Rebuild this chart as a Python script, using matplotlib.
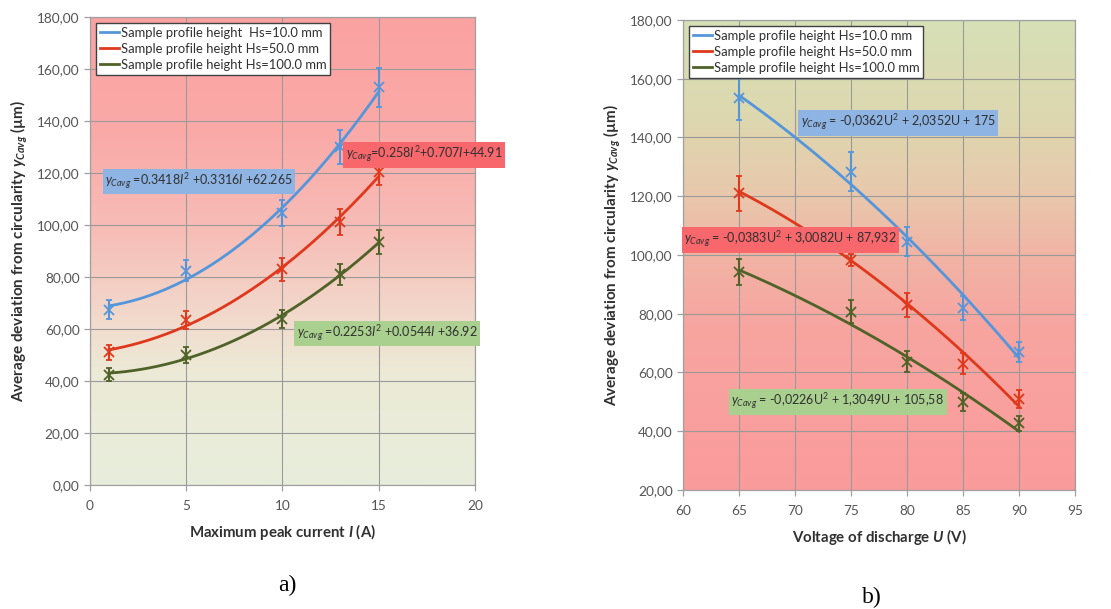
import numpy as np
import matplotlib
matplotlib.use("Agg")
import matplotlib.pyplot as plt

plt.rcParams['font.family'] = ['Lato', 'DejaVu Sans']
plt.rcParams['mathtext.fontset'] = 'custom'
plt.rcParams['mathtext.rm'] = 'Lato'
plt.rcParams['mathtext.it'] = 'Lato:italic'
plt.rcParams['mathtext.bf'] = 'Lato:bold'
plt.rcParams['mathtext.bfit'] = 'Lato:bold:italic'

# ---- data: (a) maximum peak current ----
current = [1, 5, 10, 13, 15]
dev_hs10_a = [67.5, 82.5, 104.5, 130.0, 153.0]
err_hs10_a = [3.5, 4.0, 5.0, 6.5, 7.5]
dev_hs50_a = [51.0, 63.5, 83.0, 101.0, 120.5]
err_hs50_a = [3.0, 3.5, 4.5, 5.0, 5.0]
dev_hs100_a = [42.5, 50.0, 64.0, 81.0, 93.5]
err_hs100_a = [2.5, 3.0, 3.5, 4.0, 4.5]

# ---- data: (b) voltage of discharge ----
voltage = [65, 75, 80, 85, 90]
dev_hs10_b = [153.3, 128.4, 104.5, 82.0, 67.0]
err_hs10_b = [7.5, 6.5, 5.0, 4.0, 3.5]
dev_hs50_b = [121.0, 98.3, 83.0, 63.0, 51.0]
err_hs50_b = [6.0, 2.0, 4.0, 3.5, 3.0]
dev_hs100_b = [94.3, 80.7, 63.7, 50.0, 42.7]
err_hs100_b = [4.5, 4.0, 3.5, 3.0, 2.5]

# quadratic trend coefficients for (b) (a*U^2 + b*U + c)
coef_hs10_b = [-0.0362, 2.0352, 175.0]
coef_hs50_b = [-0.0383, 3.0082, 87.932]
coef_hs100_b = [-0.0226, 1.3049, 105.58]

labels = ['Sample profile height  Hs=10.0 mm',
          'Sample profile height Hs=50.0 mm',
          'Sample profile height Hs=100.0 mm']
labels_b = ['Sample profile height Hs=10.0 mm',
            'Sample profile height Hs=50.0 mm',
            'Sample profile height Hs=100.0 mm']
colors = ['#5596db', '#e0381c', '#4f6228']
box_colors = ['#8db4e3', '#f7676c', '#a9d08e']

eq_a = [r'$y_{Cavg}$ =0.3418$I^2$ +0.3316$I$ +62.265',
        r'$y_{Cavg}$=0.258$I^2$+0.707$I$+44.91',
        r'$y_{Cavg}$ =0.2253$I^2$ +0.0544$I$ +36.92']
eq_b = [r'$y_{Cavg}$ = -0,0362U$^2$ + 2,0352U + 175',
        r'$y_{Cavg}$ = -0,0383U$^2$ + 3,0082U + 87,932',
        r'$y_{Cavg}$ = -0,0226U$^2$ + 1,3049U + 105,58']

fig = plt.figure(figsize=(11.11, 6.09), dpi=100)
fig.patch.set_facecolor('white')
ax_a = fig.add_axes([0.081, 0.2036, 0.3465, 0.7684])
ax_b = fig.add_axes([0.6148, 0.1954, 0.3528, 0.7718])


def gradient(ax, stops):
    """Vertical background gradient; stops = [(frac_from_bottom, (r,g,b)), ...]."""
    n = 300
    f = np.linspace(0, 1, n)
    pos = [s[0] for s in stops]
    img = np.zeros((n, 1, 3))
    for c in range(3):
        img[:, 0, c] = np.interp(f, pos, [s[1][c] / 255 for s in stops])
    ax.imshow(img, extent=[0, 1, 0, 1], transform=ax.transAxes, origin='lower',
              aspect='auto', zorder=-5, interpolation='bilinear')


gradient(ax_a, [(0.0, (232, 238, 220)), (0.24, (236, 234, 214)),
                (0.34, (241, 220, 206)), (0.55, (247, 188, 182)),
                (0.75, (250, 170, 168)), (1.0, (251, 162, 162))])
gradient(ax_b, [(0.0, (251, 155, 155)), (0.35, (247, 165, 160)),
                (0.5, (241, 180, 165)), (0.63, (232, 200, 172)),
                (0.78, (222, 215, 175)), (1.0, (214, 224, 182))])


def style(ax, xlim, ylim, xticks, yticks):
    ax.set_xlim(*xlim)
    ax.set_ylim(*ylim)
    ax.set_xticks(xticks)
    ax.set_yticks(yticks)
    ax.set_yticklabels([f'{v:.2f}'.replace('.', ',') for v in yticks])
    ax.grid(True, color='#9a9a9a', lw=0.8)
    ax.set_axisbelow(True)
    for s in ax.spines.values():
        s.set_color('#a0a0a0')
        s.set_linewidth(0.9)
    ax.tick_params(axis='both', colors='#a0a0a0', labelcolor='#555555',
                   labelsize=9.8, length=4, width=0.9)
    ax.tick_params(axis='x', pad=7)


style(ax_a, (0, 20), (0, 180), [0, 5, 10, 15, 20], np.arange(0, 181, 20))
style(ax_b, (60, 95), (20, 180), [60, 65, 70, 75, 80, 85, 90, 95], np.arange(20, 181, 20))

# (a) measured points and fitted quadratic trends
series_a = [(dev_hs10_a, err_hs10_a), (dev_hs50_a, err_hs50_a), (dev_hs100_a, err_hs100_a)]
ii = np.linspace(min(current), max(current), 200)
for (dev, err), col, lab in zip(series_a, colors, labels):
    coef = np.polyfit(current, dev, 2)
    ax_a.plot(ii, np.polyval(coef, ii), color=col, lw=2.0, label=lab, zorder=3)
    ax_a.errorbar(current, dev, yerr=err, fmt='x', color=col, ms=7, mew=1.3,
                  elinewidth=1.5, capsize=2.5, capthick=1.3, zorder=4)

# (b) measured points and quadratic trends
series_b = [(dev_hs10_b, err_hs10_b, coef_hs10_b), (dev_hs50_b, err_hs50_b, coef_hs50_b),
            (dev_hs100_b, err_hs100_b, coef_hs100_b)]
uu = np.linspace(min(voltage), max(voltage), 200)
for (dev, err, coef), col, lab in zip(series_b, colors, labels_b):
    ax_b.plot(uu, np.polyval(coef, uu), color=col, lw=2.0, label=lab, zorder=3)
    ax_b.errorbar(voltage, dev, yerr=err, fmt='x', color=col, ms=7, mew=1.3,
                  elinewidth=1.5, capsize=2.5, capthick=1.3, zorder=4)

for ax in (ax_a, ax_b):
    leg = ax.legend(loc='upper left', fontsize=9.4, frameon=True, fancybox=False,
                    handlelength=1.5, handletextpad=0.1, borderpad=0.3,
                    labelspacing=0.3, borderaxespad=0.45)
    leg.get_frame().set_edgecolor('#404040')
    leg.get_frame().set_linewidth(1.0)
    leg.get_frame().set_facecolor('white')
    leg.get_frame().set_alpha(1.0)
    for t in leg.get_texts():
        t.set_color('#303030')

# trend equations
pos_a = [(0.78, 116.7), (13.3, 127.0), (10.75, 58.3)]
for (x, y), txt, bc in zip(pos_a, eq_a, box_colors):
    ax_a.text(x, y, txt, fontsize=9, color='#303030', va='center', ha='left', zorder=6,
              bbox=dict(boxstyle='square,pad=0.2', fc=bc, ec='none'))
pos_b = [(70.5, 144.9), (60.1, 105.1), (64.3, 50.0)]
for (x, y), txt, bc in zip(pos_b, eq_b, box_colors):
    ax_b.text(x, y, txt, fontsize=9, color='#303030', va='center', ha='left', zorder=6,
              bbox=dict(boxstyle='square,pad=0.2', fc=bc, ec='none'))

ylab = r'Average deviation from circularity $\mathbfit{y}_{\mathbfit{Cavg}}$ (µm)'
for ax in (ax_a, ax_b):
    ax.set_ylabel(ylab, fontsize=11, fontweight='bold', color='#303030', labelpad=5)
ax_a.set_xlabel(r'Maximum peak current $\mathbfit{I}$ (A)', fontsize=10.8,
                fontweight='bold', color='#303030', labelpad=7)
ax_b.set_xlabel(r'Voltage of discharge $\mathbfit{U}$ (V)', fontsize=10.8,
                fontweight='bold', color='#303030', labelpad=7)

fig.text(287 / 1111, 1 - 585 / 609, 'a)', family='Liberation Serif', fontsize=17,
         ha='center', va='center', color='black')
fig.text(872 / 1111, 1 - 597 / 609, 'b)', family='Liberation Serif', fontsize=17,
         ha='center', va='center', color='black')

fig.savefig('out.png', dpi=100)
